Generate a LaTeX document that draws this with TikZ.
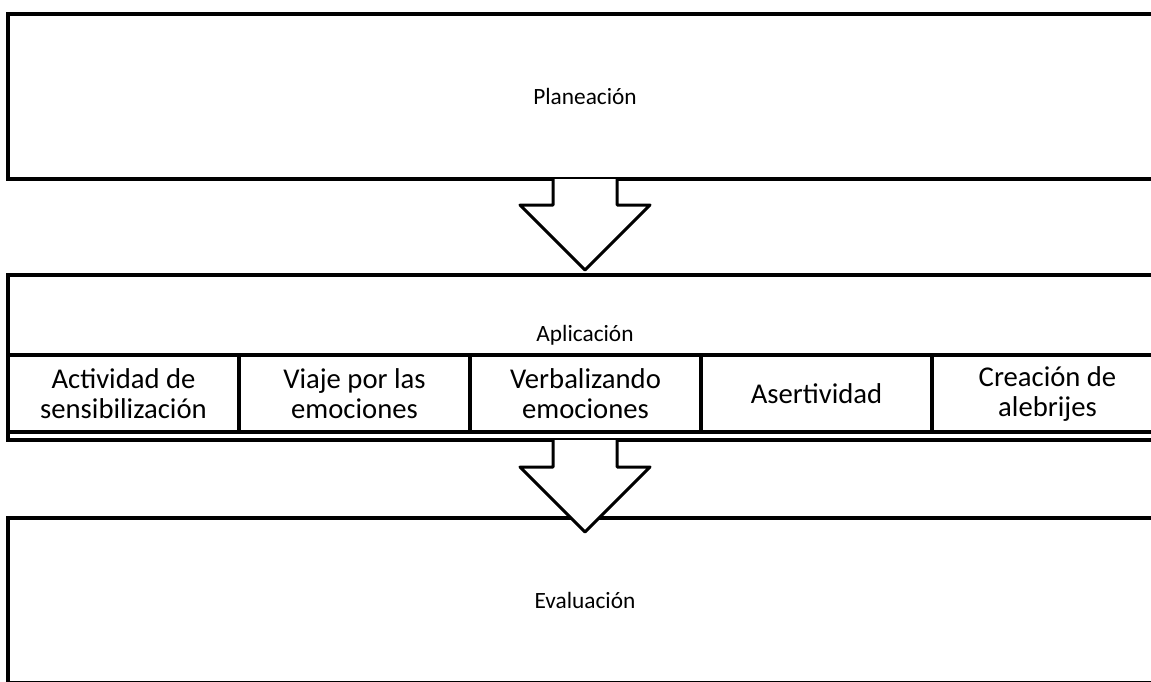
\documentclass[tikz,border=0pt]{standalone}
\usepackage{fontspec}
\setmainfont{Carlito}
\usetikzlibrary{calc}

\begin{document}
\begin{tikzpicture}[x=0.75pt,y=-0.75pt,
		kasten/.style={draw, line width=3pt, minimum width=865.5pt, minimum height=123.75pt, inner sep=0pt, font=\fontsize{17.5}{21}\selectfont},
		zelle/.style={draw, line width=2.5pt, minimum width=173.25pt, minimum height=57.75pt, inner sep=0pt, align=center, font=\fontsize{21.5}{22.5}\selectfont},
		pfeil/.style={draw, fill=white, line width=2.25pt, line join=round}]
		% Rahmen
		\clip (0,0) rectangle (1151,681);

		% Kaesten
		\node[kasten] (plan) at (585,96.5) {Planeación};
		\node[kasten] (apl) at (585,357.5) {};
		\node[font=\fontsize{17.5}{21}\selectfont] (apltext) at (585,335) {Aplicación};
		\node[kasten] (eval) at (585,600.5) {Evaluación};

		% Zellen
		\foreach \name [count=\i] in {{Actividad de\\sensibilización}, {Viaje por las\\emociones}, {Verbalizando\\emociones}, {Asertividad}, {Creación de\\alebrijes}}
			\node[zelle] (z\i) at (123.5+231*\i-231,393.5) {\name};

		% Pfeile
		\draw[pfeil] ($(plan.south)+(-32,-2)$) -- ++(0,26) -- ++(-33,0) -- ($(plan.south)+(0,89)$) -- ++(65,-65) -- ++(-33,0) -- ++(0,-26);
		\draw[pfeil] ($(apl.south)+(-32,-2)$) -- ++(0,27) -- ++(-33,0) -- ($(apl.south)+(0,90)$) -- ++(65,-65) -- ++(-33,0) -- ++(0,-27);
	\end{tikzpicture}
\end{document}
